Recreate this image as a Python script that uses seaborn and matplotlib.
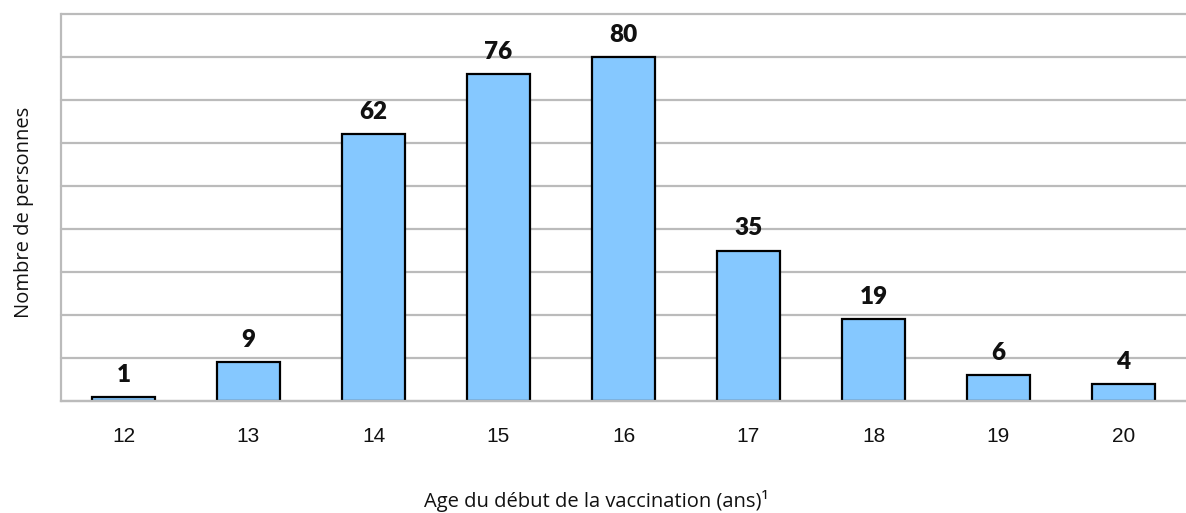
import matplotlib
matplotlib.use("Agg")
import matplotlib.pyplot as plt
import seaborn as sns
import numpy as np

ages = ["12", "13", "14", "15", "16", "17", "18", "19", "20"]
counts = [1, 9, 62, 76, 80, 35, 19, 6, 4]

sns.set_style("white")
fig = plt.figure(figsize=(11.86, 5.13), dpi=100)
ax = fig.add_axes([61/1186, 1 - 401/513, 1 - 61/1186, (401 - 14)/513])

sns.barplot(x=ages, y=counts, color="#85C8FF", saturation=1, width=0.51,
            edgecolor="black", linewidth=1.6, ax=ax, zorder=3)

ax.set_ylim(0, 90)
ax.set_xlim(-0.5, len(ages) - 0.5)
ax.set_yticks(np.arange(0, 91, 10))
ax.set_yticklabels([])
ax.tick_params(axis="y", length=0)
ax.yaxis.grid(True, color="#BBBBBB", linewidth=1.6, zorder=0, clip_on=False)
ax.set_axisbelow(True)

for s in ["top", "right"]:
    ax.spines[s].set_visible(False)
for s in ["left", "bottom"]:
    ax.spines[s].set_color("#BBBBBB")
    ax.spines[s].set_linewidth(1.6)
ax.spines["bottom"].set_zorder(4)

ax.set_xticks(np.arange(-0.5, len(ages), 1.0), minor=True)
ax.tick_params(axis="x", which="minor", length=9, width=1.6, color="#BBBBBB")
ax.tick_params(axis="x", which="major", length=0, pad=19)
for lbl in ax.get_xticklabels():
    lbl.set_fontfamily("Liberation Sans")
    lbl.set_fontsize(15)
    lbl.set_color("#111111")

for c in ax.containers:
    ax.bar_label(c, labels=[str(v) for v in counts], padding=8,
                 fontsize=17.5, fontweight="heavy", fontfamily="Lato", color="#111111")

ax.set_xlabel("Age du début de la vaccination (ans)¹", fontsize=14.5,
              fontfamily="Open Sans", color="#111111", va="center")
ax.xaxis.set_label_coords((596 - 61) / 1125, (401 - 501) / 387)
ax.set_ylabel("Nombre de personnes", fontsize=14.5, fontfamily="Open Sans",
              color="#111111", va="center")
ax.yaxis.set_label_coords((24 - 61) / 1125, (401 - 212) / 387)

fig.savefig("out.png", dpi=100)
